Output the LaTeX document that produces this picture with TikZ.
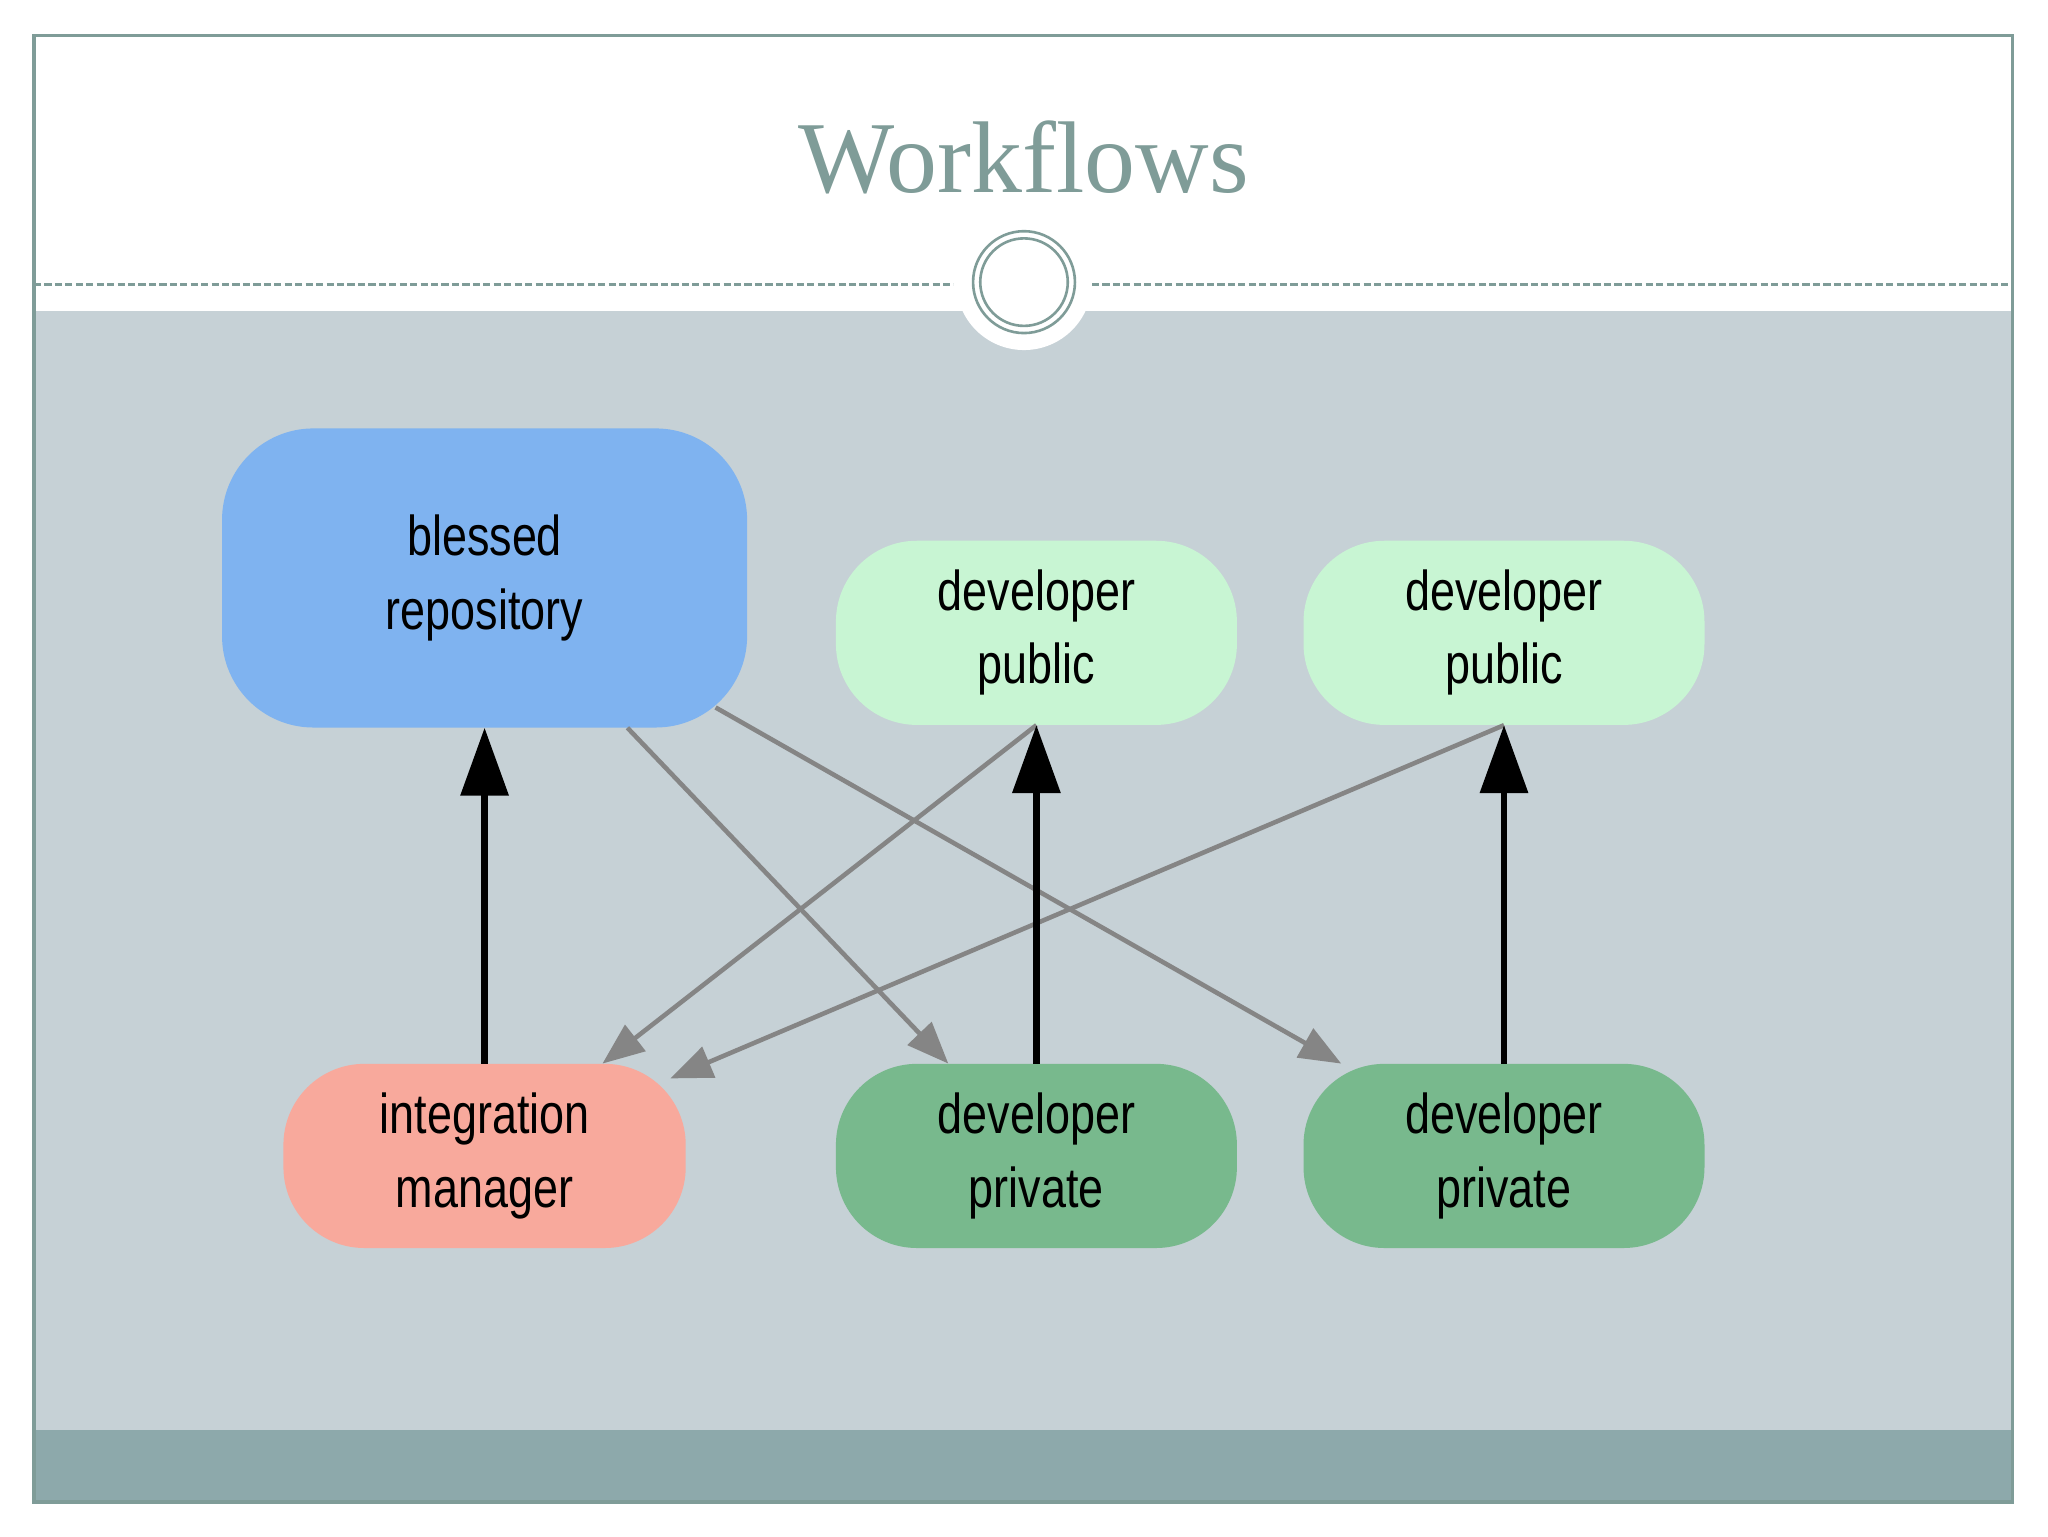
\documentclass[tikz,border=0pt]{standalone}
\usepackage{fontspec}
\setmainfont{Liberation Serif}
\newfontfamily\graphfont[FakeStretch=0.8]{Liberation Sans}
\usepackage{tikz}
\usepackage{xcolor}
\usetikzlibrary{arrows.meta}
\definecolor{frame-green}{HTML}{7F9C98}
\definecolor{slide-gray}{HTML}{C6D1D6}
\definecolor{band-green}{HTML}{8DA9AB}
\definecolor{blessed-blue}{HTML}{7FB3F0}
\definecolor{public-green}{HTML}{C8F5D3}
\definecolor{private-green}{HTML}{78B98D}
\definecolor{manager-red}{HTML}{F8A99C}
\definecolor{edge-gray}{HTML}{858585}
\tikzset{
    graph-box/.style = {rectangle, rounded corners=62pt, inner sep=0pt, minimum width=307pt, minimum height=141pt, align=center, font=\graphfont\fontsize{43}{56}\selectfont},
    flow-up/.style = {draw=black, line width=5pt, -{Triangle[length=52pt,width=36pt]}},
    flow-cross/.style = {draw=edge-gray, line width=3.5pt, -{Triangle[length=32pt,width=25pt]}},
}

\begin{document}
\begin{tikzpicture}[x=1pt,y=-1pt]
\useasboundingbox (0,0) rectangle (1568,1176);
\fill[white] (0,0) rectangle (1568,1176);
% slide background
\fill[slide-gray] (26,238) rectangle (1541,1095);
\fill[band-green] (26,1095) rectangle (1541,1150);
\draw[frame-green, line width=2pt, dash pattern=on 5.5pt off 2.5pt] (26,218) -- (730,218);
\draw[frame-green, line width=2pt, dash pattern=on 5.5pt off 2.5pt] (836,218) -- (1541,218);
\fill[white] (784,216) circle (52);
\draw[frame-green, line width=2pt] (784,216) circle (39);
\draw[frame-green, line width=2pt] (784,216) circle (33.5);
\node[text=frame-green, font=\fontsize{78}{94}\selectfont, anchor=base, inner sep=0pt] (title) at (784,147) {Workflows};
\draw[frame-green, line width=2.5pt] (26,27) rectangle (1541,1150);

% nodes
\node[graph-box, fill=blessed-blue, rounded corners=70pt, minimum width=402pt, minimum height=229pt] (blessed) at (371,442.5) {blessed\\repository};
\node[graph-box, fill=public-green] (pub-a) at (793.5,484.5) {developer\\public};
\node[graph-box, fill=public-green] (pub-b) at (1151.5,484.5) {developer\\public};
\node[graph-box, fill=manager-red, minimum width=308pt] (manager) at (371,885) {integration\\manager};
\node[graph-box, fill=private-green] (priv-a) at (793.5,885) {developer\\private};
\node[graph-box, fill=private-green] (priv-b) at (1151.5,885) {developer\\private};

% edges
\draw[flow-cross] (blessed) -- (priv-a);
\draw[flow-cross, shorten <=-28pt] (blessed) -- (priv-b);
\draw[flow-cross] (pub-a.south) -- (manager);
\draw[flow-cross, shorten >=-13pt] (pub-b.south) -- (manager);
\draw[flow-up] (manager.north) -- (blessed.south);
\draw[flow-up] (priv-a.north) -- (pub-a.south);
\draw[flow-up] (priv-b.north) -- (pub-b.south);
\end{tikzpicture}
\end{document}
